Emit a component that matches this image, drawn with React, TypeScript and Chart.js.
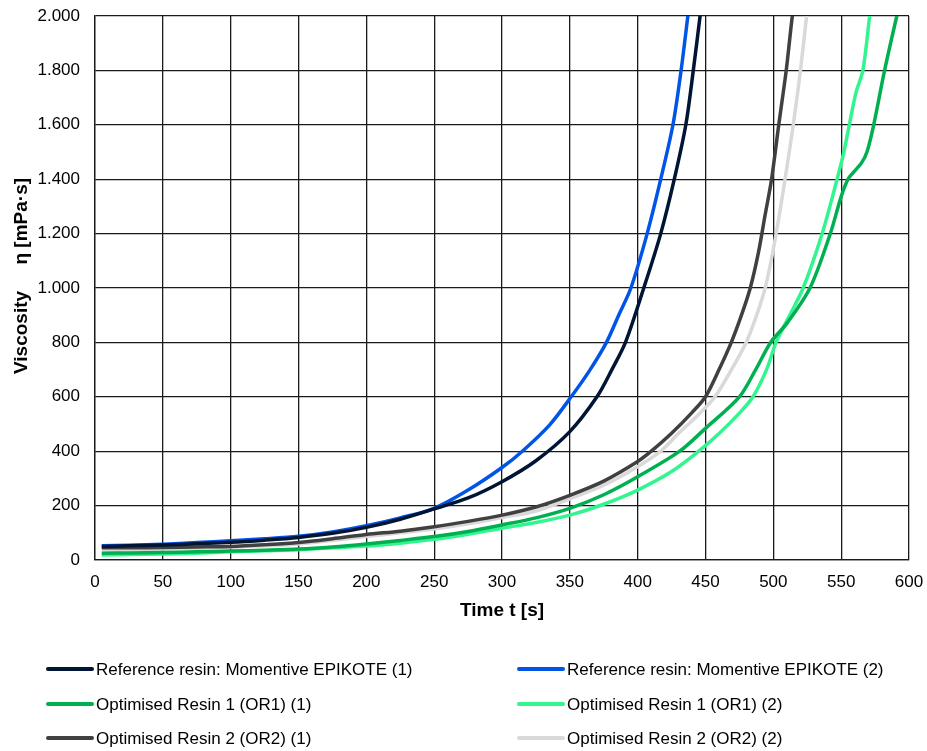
import React, { useEffect, useRef } from "react";
import { Chart, registerables } from "chart.js";

Chart.register(...registerables);

// ---- Data (time in s, viscosity in mPa·s) ----
const ref1T = [5, 25, 50, 75, 100, 125, 150, 175, 200, 225, 250, 275, 300, 325, 350, 370, 381, 391, 404.5, 417, 427, 435.5, 441, 446, 447.5];
const ref1V = [50, 52, 55, 60, 65, 73, 83, 98, 120, 150, 188, 228, 288, 365, 472, 600, 700, 800, 1000, 1200, 1400, 1600, 1800, 2000, 2060];

const ref2T = [5, 25, 50, 75, 100, 125, 150, 175, 200, 225, 250, 275, 300, 315, 335, 351, 365, 377, 386, 395, 407, 417, 426, 432, 437, 438.5];
const ref2V = [52, 54, 58, 64, 71, 78, 87, 103, 126, 155, 190, 257, 340, 400, 496, 600, 700, 800, 900, 1000, 1200, 1400, 1600, 1800, 2000, 2060];

const or1aT = [5, 25, 50, 75, 100, 125, 150, 175, 200, 225, 250, 275, 300, 325, 350, 375, 400, 431, 450, 475, 487, 498, 510, 527, 542, 550, 555, 559, 565, 569, 574, 582, 591, 594];
const or1aV = [25, 26, 28, 30, 33, 36, 40, 48, 59, 72, 86, 105, 129, 155, 190, 240, 306, 400, 484, 600, 700, 800, 870, 1000, 1200, 1336, 1400, 1425, 1460, 1500, 1600, 1800, 2000, 2060];

const or1bT = [5, 25, 50, 75, 100, 125, 150, 175, 200, 225, 250, 275, 300, 325, 350, 375, 400, 425, 445, 460, 475, 485, 495, 502, 510, 522, 536, 547, 552, 556, 561, 566, 571, 573];
const or1bV = [18, 20, 22, 25, 30, 34, 38, 45, 51, 62, 76, 95, 117, 138, 165, 205, 257, 325, 400, 465, 540, 600, 700, 800, 880, 1000, 1200, 1400, 1500, 1600, 1720, 1800, 2000, 2080];

const or2aT = [5, 25, 50, 75, 100, 125, 150, 175, 200, 225, 250, 275, 300, 325, 350, 375, 400, 410, 425, 440, 450, 460, 469, 476.5, 483, 489, 494, 498.7, 504, 509.5, 514, 516];
const or2aV = [45, 45, 46, 48, 50, 56, 64, 78, 94, 106, 122, 142, 165, 195, 238, 290, 362, 400, 466, 542, 600, 700, 800, 900, 1000, 1130, 1270, 1400, 1600, 1800, 2000, 2060];

const or2bT = [5, 25, 50, 75, 100, 125, 150, 175, 200, 225, 250, 275, 300, 325, 350, 375, 400, 417, 430, 445, 457, 468, 480, 487, 494, 501, 508, 514.7, 520, 524.5, 526];
const or2bV = [38, 38, 40, 43, 48, 52, 59, 72, 86, 100, 114, 133, 156, 180, 225, 275, 343, 400, 465, 535, 600, 690, 800, 890, 1000, 1170, 1380, 1600, 1800, 2000, 2060];

const seriesLabels = [
  "Reference resin: Momentive EPIKOTE (1)",
  "Reference resin: Momentive EPIKOTE (2)",
  "Optimised Resin 1 (OR1) (1)",
  "Optimised Resin 1 (OR1) (2)",
  "Optimised Resin 2 (OR2) (1)",
  "Optimised Resin 2 (OR2) (2)",
];
const seriesColors = ["#001433", "#0055E6", "#00B050", "#33F58F", "#404040", "#D9D9D9"];
const seriesT = [ref1T, ref2T, or1aT, or1bT, or2aT, or2bT];
const seriesV = [ref1V, ref2V, or1aV, or1bV, or2aV, or2bV];

const xTitle = "Time t [s]";
const yTitle = "Viscosity     η [mPa·s]";

const FONT = "'Liberation Sans', Arial, sans-serif";

const fmtThousands = (v: number) => {
  if (v >= 1000) {
    const th = Math.floor(v / 1000);
    const rest = String(Math.round(v % 1000)).padStart(3, "0");
    return th + "." + rest;
  }
  return String(v);
};

const extrasPlugin = {
  id: "extras",
  afterDraw(chart: any) {
    const ctx = chart.ctx as CanvasRenderingContext2D;
    ctx.save();
    const colX = [48, 519];
    const rowY = [669, 704, 738];
    chart.data.datasets.forEach((ds: any, i: number) => {
      const col = i % 2;
      const row = Math.floor(i / 2);
      const x0 = colX[col];
      const y = rowY[row];
      ctx.strokeStyle = ds.borderColor;
      ctx.lineWidth = 4;
      ctx.lineCap = "round";
      ctx.beginPath();
      ctx.moveTo(x0, y);
      ctx.lineTo(x0 + 44, y);
      ctx.stroke();
      ctx.fillStyle = "#000";
      ctx.font = `17px ${FONT}`;
      ctx.textAlign = "left";
      ctx.textBaseline = "middle";
      ctx.fillText(ds.label, x0 + 48, y + 1);
    });
    ctx.translate(22, 276);
    ctx.rotate(-Math.PI / 2);
    ctx.font = `bold 19px ${FONT}`;
    ctx.textAlign = "center";
    ctx.textBaseline = "middle";
    ctx.fillStyle = "#000";
    ctx.fillText(yTitle, 0, 0);
    ctx.restore();
  },
};

export default function App() {
  const canvasRef = useRef<HTMLCanvasElement | null>(null);

  useEffect(() => {
    if (!canvasRef.current) return;
    const datasets = seriesLabels.map((label, i) => ({
      label,
      data: seriesT[i].map((t, j) => ({ x: t, y: seriesV[i][j] })),
      borderColor: seriesColors[i],
      backgroundColor: seriesColors[i],
      borderWidth: 3.5,
      pointRadius: 0,
      tension: 0.3,
      fill: false,
      clip: 0,
    }));

    const chart = new Chart(canvasRef.current, {
      type: "line",
      data: { datasets },
      options: {
        animation: false,
        responsive: false,
        maintainAspectRatio: false,
        layout: { padding: { top: 16, right: 18, bottom: 129, left: 0 } },
        plugins: {
          legend: { display: false },
          tooltip: { enabled: false },
        },
        scales: {
          x: {
            type: "linear",
            min: 0,
            max: 600,
            afterFit: (s: any) => {
              s.height = 62;
              s.paddingLeft = 0;
              s.paddingRight = 0;
              s.paddingTop = 0;
              s.paddingBottom = 0;
            },
            ticks: {
              stepSize: 50,
              padding: 12,
              color: "#000",
              font: { family: FONT, size: 17 },
              maxRotation: 0,
            },
            grid: { color: "#1a1a1a", lineWidth: 1.3, drawTicks: false },
            border: { display: true, color: "#1a1a1a", width: 1.3 },
            title: {
              display: true,
              text: xTitle,
              color: "#000",
              font: { family: FONT, size: 19, weight: "bold" },
              padding: { top: 0, bottom: 0 },
            },
          },
          y: {
            type: "linear",
            min: 0,
            max: 2000,
            afterFit: (s: any) => {
              s.width = 95;
              s.paddingLeft = 0;
              s.paddingRight = 0;
              s.paddingTop = 0;
              s.paddingBottom = 0;
            },
            ticks: {
              stepSize: 200,
              padding: 15,
              color: "#000",
              font: { family: FONT, size: 17 },
              callback: (v: any) => fmtThousands(Number(v)),
            },
            grid: { color: "#1a1a1a", lineWidth: 1.3, drawTicks: false },
            border: { display: true, color: "#1a1a1a", width: 1.3 },
          },
        },
      },
      plugins: [extrasPlugin],
    });
    return () => chart.destroy();
  }, []);

  return (
    <div style={{ position: "absolute", left: 0, top: 0, width: 927, height: 751, background: "#fff" }}>
      <canvas ref={canvasRef} width={927} height={751} style={{ width: 927, height: 751, display: "block" }} />
    </div>
  );
}
